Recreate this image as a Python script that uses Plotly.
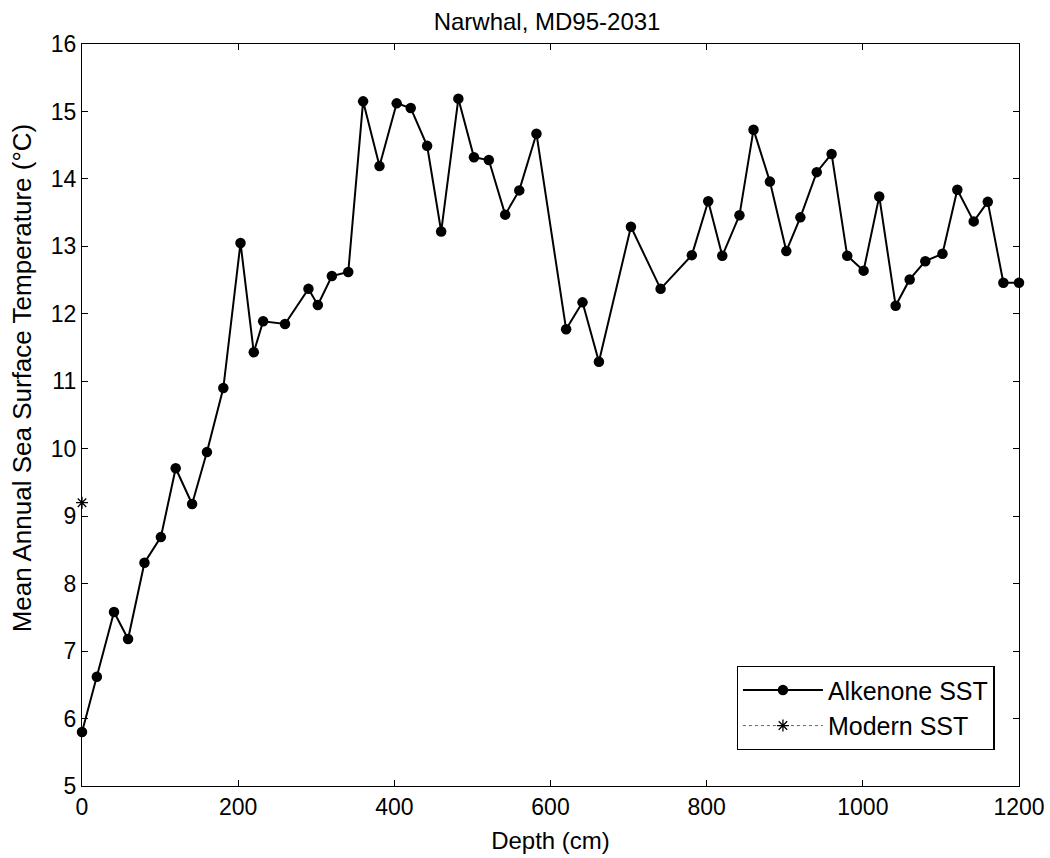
import plotly.graph_objects as go

# Alkenone SST record (depth in cm, temperature in deg C)
depth_cm = [0, 19, 41, 59, 80, 101, 120, 141, 160, 181,
            203, 220, 232, 260, 290, 302, 320, 341, 360, 381,
            403, 421, 442, 460, 482, 502, 521, 542, 560, 582,
            620, 641, 662, 703, 741, 781, 802, 820, 842, 860,
            881, 902, 920, 941, 960, 980, 1001, 1021, 1042, 1060,
            1080, 1102, 1121, 1142, 1160, 1180, 1200]
alkenone_sst = [5.80, 6.62, 7.58, 7.18, 8.31, 8.69, 9.71, 9.18, 9.95, 10.90,
                13.05, 11.43, 11.89, 11.85, 12.37, 12.13, 12.56, 12.62, 15.15, 14.19,
                15.12, 15.05, 14.49, 13.22, 15.19, 14.32, 14.28, 13.47, 13.83, 14.67,
                11.77, 12.17, 11.29, 13.29, 12.37, 12.87, 13.67, 12.86, 13.46, 14.73,
                13.96, 12.93, 13.43, 14.10, 14.37, 12.86, 12.64, 13.74, 12.12, 12.51,
                12.78, 12.89, 13.84, 13.37, 13.66, 12.46, 12.46]

# Modern SST
modern_depth = [0]
modern_sst = [9.2]

x_ticks = [0, 200, 400, 600, 800, 1000, 1200]
y_ticks = [5, 6, 7, 8, 9, 10, 11, 12, 13, 14, 15, 16]

FONT = "Liberation Sans, Arial, Helvetica, sans-serif"

fig = go.Figure()
fig.add_trace(go.Scatter(
    x=depth_cm, y=alkenone_sst, mode="lines+markers", name="Alkenone SST",
    line=dict(color="black", width=2),
    marker=dict(symbol="circle", size=10.5, color="black"),
    cliponaxis=False,
))
fig.add_trace(go.Scatter(
    x=modern_depth, y=modern_sst, mode="lines+markers", name="Modern SST",
    line=dict(color="#666666", width=1, dash="dot"),
    marker=dict(symbol="asterisk-open", size=10, color="black",
                line=dict(color="black", width=1.3)),
    cliponaxis=False,
))

axis_common = dict(
    showline=True, linecolor="black", linewidth=1.3, mirror="ticks",
    ticks="inside", ticklen=6, tickwidth=1.3, tickcolor="black",
    showgrid=False, zeroline=False, automargin=False,
    tickfont=dict(family=FONT, size=23, color="black"),
)

fig.update_layout(
    width=1050, height=858,
    paper_bgcolor="white", plot_bgcolor="white",
    margin=dict(l=82, r=31, t=44, b=72, autoexpand=False),
    title=dict(text="Narwhal, MD95-2031", x=0.521, xanchor="center",
               y=0.975, yanchor="middle",
               font=dict(family=FONT, size=24, color="black")),
    xaxis=dict(range=[0, 1200], tickvals=x_ticks,
               title=dict(text="Depth (cm)", standoff=13,
                          font=dict(family=FONT, size=24, color="black")),
               **axis_common),
    yaxis=dict(range=[5, 16], tickvals=y_ticks, **axis_common),
    annotations=[dict(
        text="Mean Annual Sea Surface Temperature (°C)",
        xref="paper", yref="paper", x=-0.064, y=0.5495,
        xanchor="center", yanchor="middle", textangle=-90, showarrow=False,
        font=dict(family=FONT, size=26, color="black"),
    )],
    legend=dict(x=0.974, y=0.0485, xanchor="right", yanchor="bottom",
                bordercolor="black", borderwidth=1.3, bgcolor="white",
                font=dict(family=FONT, size=25, color="black"),
                itemwidth=80, tracegroupgap=2),
    showlegend=True,
)

fig.write_html("out.html")
